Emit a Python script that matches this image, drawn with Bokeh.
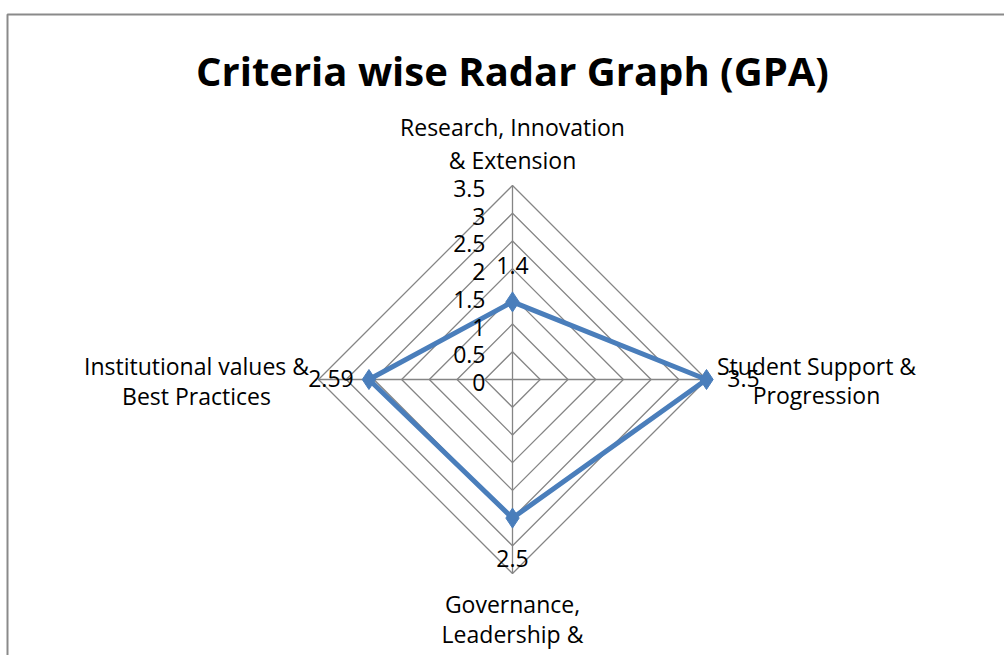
import numpy as np
from bokeh.plotting import figure
from bokeh.models import Range1d, ColumnDataSource
from bokeh.core.properties import value
from bokeh.embed import file_html
from bokeh.resources import INLINE

# ---- data ----
title = "Criteria wise Radar Graph (GPA)"
categories = [
    ["Research, Innovation", "& Extension"],
    ["Student Support &", "Progression"],
    ["Governance,", "Leadership &"],
    ["Institutional values &", "Best Practices"],
]
values = [1.4, 3.5, 2.5, 2.59]
value_labels = ["1.4", "3.5", "2.5", "2.59"]
tick_values = [0, 0.5, 1, 1.5, 2, 2.5, 3, 3.5]
tick_labels = ["0", "0.5", "1", "1.5", "2", "2.5", "3", "3.5"]
rmax = 3.5

# ---- layout (screen pixel coordinates) ----
W, H = 1004, 655
CX, CY = 512, 379
R = 194.0
scale = R / rmax
FONT = "Open Sans"
FS = "23px"
GRID = "#858585"
BLUE = "#4A7EBB"

p = figure(width=W, height=H, output_backend="svg", toolbar_location=None,
           x_range=Range1d(0, W), y_range=Range1d(H, 0),
           min_border=0, background_fill_color="white", border_fill_color="white")
p.axis.visible = False
p.grid.visible = False
p.outline_line_color = None

n = len(values)
ang = np.arange(n) * 2 * np.pi / n  # clockwise from top
ux = np.sin(ang)
uy = -np.cos(ang)  # screen y grows downward

# outer border of chart area
p.line([7, 7, W], [H, 14, 14], line_color="#8a8a8a", line_width=2)

# grid rings
xs, ys = [], []
for t in tick_values[1:]:
    r = t * scale
    xs.append(list(CX + r * np.append(ux, ux[0])))
    ys.append(list(CY + r * np.append(uy, uy[0])))
p.multi_line(xs, ys, line_color=GRID, line_width=1.3)
# spokes
p.segment(x0=[CX] * n, y0=[CY] * n, x1=list(CX + R * ux), y1=list(CY + R * uy),
          line_color=GRID, line_width=1.3)

# series
vx = CX + np.array(values) * scale * ux
vy = CY + np.array(values) * scale * uy
p.line(list(np.append(vx, vx[0])), list(np.append(vy, vy[0])), line_color=BLUE, line_width=5,
       line_join="round")
p.scatter(list(vx), list(vy), marker="diamond", size=20, fill_color=BLUE, line_color=BLUE)

# tick labels
tsrc = ColumnDataSource(dict(x=[CX - 27] * len(tick_values),
                             y=[CY + 3 - t * scale for t in tick_values],
                             text=tick_labels))
p.text("x", "y", "text", source=tsrc, text_align="right", text_baseline="middle",
       text_font=value(FONT), text_font_size=FS, text_color="#000000")

# data labels
off = [35, 37, 41, 38]
dsrc = ColumnDataSource(dict(x=list(vx + np.array(off) * ux),
                             y=list(vy + np.array(off) * uy - 1),
                             text=value_labels))
p.text("x", "y", "text", source=dsrc, text_align="center", text_baseline="middle",
       text_font=value(FONT), text_font_size=FS, text_color="#000000")

# category labels
lx, ly, lt = [], [], []
cat_off = [(0, -253, 33), (304, -14, 29), (0, 224, 30), (-316, -14, 30)]
for (dx, dy, sp), lines in zip(cat_off, categories):
    for i, s in enumerate(lines):
        lx.append(CX + dx)
        ly.append(CY + dy + i * sp)
        lt.append(s)
p.text(lx, ly, lt, text_align="center", text_baseline="middle",
       text_font=value(FONT), text_font_size=FS, text_color="#000000")

# title
p.text([CX], [70], [title], text_align="center", text_baseline="middle",
       text_font=value(FONT), text_font_size="40px", text_font_style="bold",
       text_color="#000000")

open("out.html", "w").write(file_html(p, INLINE))
